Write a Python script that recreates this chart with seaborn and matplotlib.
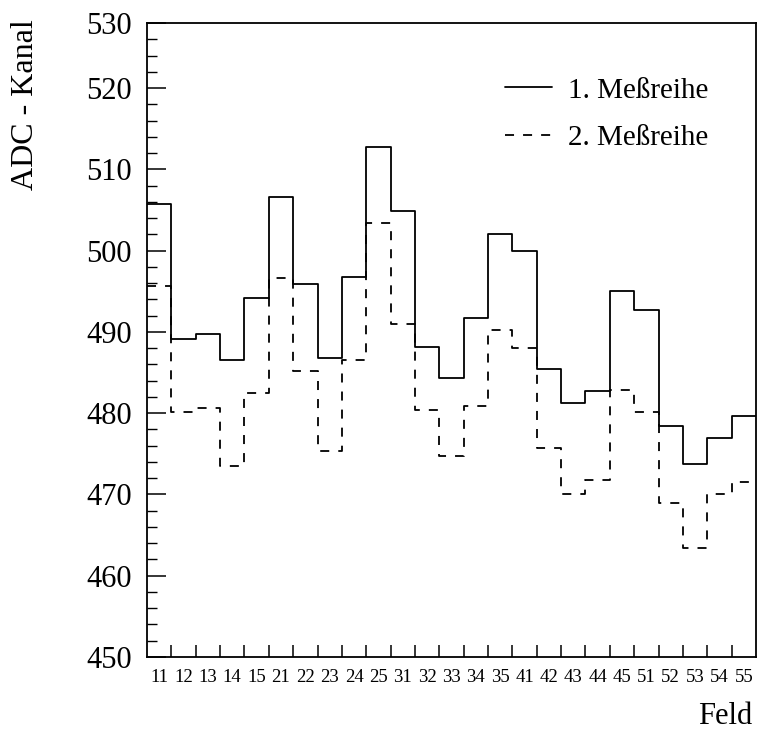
import numpy as np
import pandas as pd
import matplotlib
matplotlib.use("Agg")
import matplotlib.pyplot as plt
import seaborn as sns
from matplotlib.lines import Line2D
from matplotlib.ticker import FixedLocator, MultipleLocator

# --- data ---------------------------------------------------------------
felder = ["11", "12", "13", "14", "15",
          "21", "22", "23", "24", "25",
          "31", "32", "33", "34", "35",
          "41", "42", "43", "44", "45",
          "51", "52", "53", "54", "55"]
messreihe_1 = [505.7, 489.1, 489.7, 486.6, 494.2,
               506.6, 495.9, 486.8, 496.7, 512.7,
               504.9, 488.2, 484.3, 491.7, 502.0,
               500.0, 485.4, 481.3, 482.7, 495.0,
               492.7, 478.4, 473.8, 477.0, 479.7]
messreihe_2 = [495.7, 480.2, 480.6, 473.5, 482.5,
               496.6, 485.2, 475.3, 486.6, 503.4,
               491.0, 480.4, 474.7, 480.9, 490.2,
               488.0, 475.7, 470.1, 471.8, 482.8,
               480.1, 468.9, 463.4, 470.1, 471.5]
y_ticks = [450, 460, 470, 480, 490, 500, 510, 520, 528]
y_tick_labels = ["450", "460", "470", "480", "490", "500", "510", "520", "530"]

# --- figure -------------------------------------------------------------
sns.set_style("ticks")
plt.rcParams["font.family"] = ["Liberation Serif", "DejaVu Serif"]
plt.rcParams.update({"text.color": "black", "axes.labelcolor": "black",
                     "xtick.color": "black", "ytick.color": "black",
                     "axes.edgecolor": "black"})

fig = plt.figure(figsize=(7.57, 7.33), dpi=100)
ax = fig.add_axes([147 / 757, 1 - 657 / 733, (756 - 147) / 757, (657 - 23) / 733])

n = len(felder)
idx = np.arange(n)
df = pd.DataFrame({"pos": idx + 0.5, "m1": messreihe_1, "m2": messreihe_2})

sns.histplot(data=df, x="pos", weights="m1", binwidth=1, binrange=(0, n),
             element="step", fill=False, color="black", linewidth=1.3, ax=ax)
sns.histplot(data=df, x="pos", weights="m2", binwidth=1, binrange=(0, n),
             element="step", fill=False, color="black", linewidth=1.3,
             linestyle=(0, (5, 5)), ax=ax)

ax.set_xlim(0, n)
ax.set_ylim(450, 528)
ax.set_xlabel("")
ax.set_ylabel("")

for s in ax.spines.values():
    s.set_visible(True)
    s.set_linewidth(1.3)
    s.set_color("black")

# x axis: labels at bin centres, tick marks at bin edges
ax.xaxis.set_major_locator(FixedLocator(idx + 0.5))
ax.set_xticklabels(felder, fontsize=13.5)
ax.xaxis.set_minor_locator(FixedLocator(np.arange(1, n)))
ax.tick_params(axis="x", which="major", length=0, pad=9)
ax.tick_params(axis="x", which="minor", direction="in", length=9, width=1.1, top=False)

# y axis
ax.yaxis.set_major_locator(FixedLocator(y_ticks))
ax.set_yticklabels(y_tick_labels, fontsize=22)
ax.yaxis.set_minor_locator(MultipleLocator(2))
ax.tick_params(axis="y", which="major", direction="in", length=14, width=1.1, pad=11, right=False)
ax.tick_params(axis="y", which="minor", direction="in", length=7, width=1.0, right=False)

# legend
handles = [Line2D([], [], color="black", lw=1.3),
           Line2D([], [], color="black", lw=1.3, linestyle=(0, (5, 5)))]
leg = fig.legend(handles, ["1. Meßreihe", "2. Meßreihe"],
                 loc="center left", bbox_to_anchor=(505 / 757, 1 - 114 / 733),
                 frameon=False, fontsize=21, handlelength=1.6,
                 handletextpad=0.55, labelspacing=0.72, borderpad=0,
                 borderaxespad=0)

fig.text(26 / 757, 1 - 105 / 733, "ADC - Kanal", rotation=90,
         ha="center", va="center", fontsize=23)
fig.text(752 / 757, 1 - 731 / 733, "Feld", ha="right", va="bottom", fontsize=22)

fig.savefig("out.png", dpi=100)
